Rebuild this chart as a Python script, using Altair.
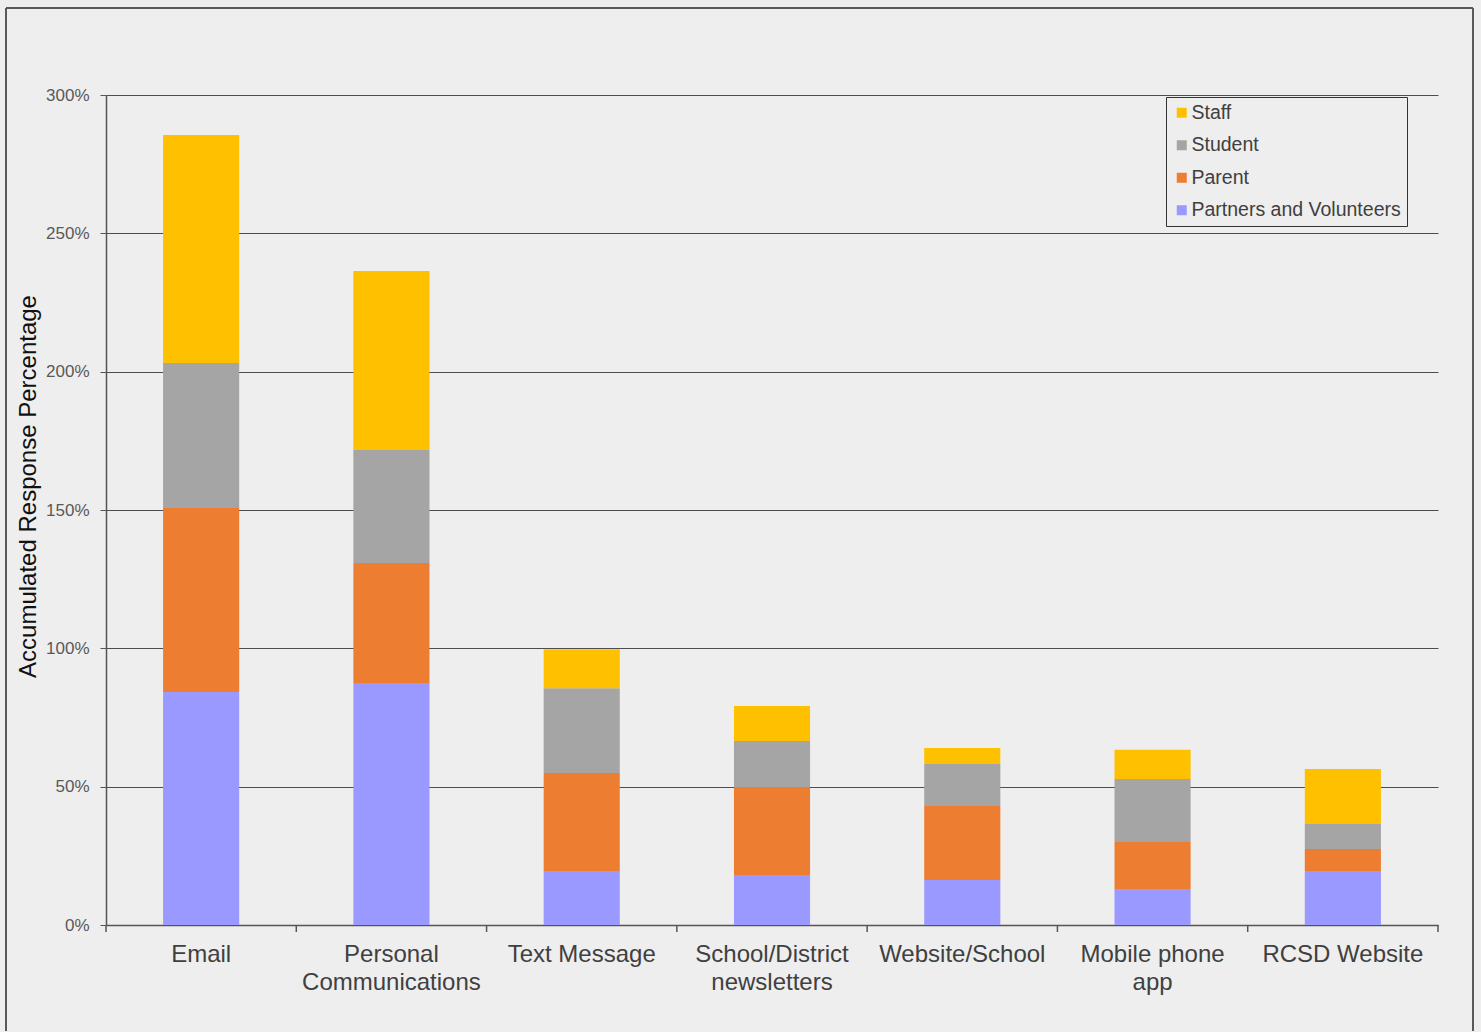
import json
import altair as alt
import pandas as pd

categories = ["Email", "Personal Communications", "Text Message",
              "School/District newsletters", "Website/School",
              "Mobile phone app", "RCSD Website"]
label_lines = [["Email"], ["Personal", "Communications"], ["Text Message"],
               ["School/District", "newsletters"], ["Website/School"],
               ["Mobile phone", "app"], ["RCSD Website"]]
groups = ["Staff", "Student", "Parent", "Partners and Volunteers"]
colors = ["#FFC000", "#A5A5A5", "#ED7D31", "#9999FF"]
partners = [84.2, 87.5, 19.5, 18.1, 16.3, 13.0, 19.5]
parent = [66.5, 43.3, 35.4, 31.8, 26.7, 17.0, 8.0]
student = [52.4, 40.9, 30.7, 16.6, 15.2, 22.8, 9.0]
staff = [82.4, 64.7, 14.1, 12.7, 5.8, 10.5, 19.9]
y_ticks = [0, 50, 100, 150, 200, 250, 300]

series = {"Partners and Volunteers": partners, "Parent": parent,
          "Student": student, "Staff": staff}
stack_rank = {"Partners and Volunteers": 0, "Parent": 1, "Student": 2, "Staff": 3}
rows = []
for g, vals in series.items():
    for c, v in zip(categories, vals):
        rows.append({"cat": c, "group": g, "value": v, "rank": stack_rank[g]})
df = pd.DataFrame(rows)
cat_df = pd.DataFrame({"cat": categories})
one = pd.DataFrame({"a": [0]})

expr = "datum.value"
for c, lines in reversed(list(zip(categories, label_lines))):
    expr = f"datum.value == {json.dumps(c)} ? {json.dumps(lines)} : ({expr})"

font = "Liberation Sans"
x_scale = alt.Scale(paddingInner=0, paddingOuter=0)
x_axis = alt.Axis(title=None, labelExpr=expr, labelFontSize=24, labelColor="#404040",
                  labelFont=font, labelPadding=17, labelLineHeight=28, labelAngle=0,
                  ticks=False, domainColor="#555555", domainWidth=1.5)

bars = alt.Chart(df).mark_bar(width=alt.RelativeBandSize(0.4)).encode(
    x=alt.X("cat:N", sort=categories, scale=x_scale, axis=x_axis),
    y=alt.Y("value:Q", stack="zero",
            scale=alt.Scale(domain=[0, 300], nice=False),
            axis=alt.Axis(values=y_ticks, labelExpr="datum.value + '%'",
                          title="Accumulated Response Percentage",
                          titleFontSize=24, titleFont=font, titleColor="#111111",
                          titleFontWeight="normal", titleAngle=270,
                          titleX=-78, titleY=391, titleBaseline="middle",
                          labelFontSize=17, labelFont=font, labelColor="#595959",
                          labelPadding=11, tickSize=6, tickColor="#555555",
                          domainColor="#555555", domainWidth=1.5,
                          grid=True, gridColor="#4d4d4d", gridWidth=1)),
    color=alt.Color("group:N", scale=alt.Scale(domain=groups, range=colors),
                    legend=alt.Legend(title=None, orient="none", legendX=1060, legendY=2,
                                      fillColor="#eeeeee", strokeColor="#333333",
                                      padding=6, labelFontSize=19.5, labelFont=font,
                                      labelColor="#404040", symbolType="square",
                                      symbolSize=100, symbolStrokeWidth=0,
                                      rowPadding=11.5, labelLimit=400, labelOffset=0)),
    order=alt.Order("rank:Q", sort="ascending"),
)

ticks = alt.Chart(cat_df).mark_rule(color="#555555", strokeWidth=1.5).encode(
    x=alt.X("cat:N", sort=categories, scale=x_scale, axis=x_axis, bandPosition=0),
    y=alt.value(830), y2=alt.value(837),
)
end_tick = alt.Chart(one).mark_rule(color="#555555", strokeWidth=1.5).encode(
    x=alt.value(1332), y=alt.value(830), y2=alt.value(837))

frame_kw = dict(color="#595959", strokeWidth=2)
frame_left = alt.Chart(one).mark_rule(**frame_kw).encode(
    x=alt.value(-100), y=alt.value(-87), y2=alt.value(936))
frame_right = alt.Chart(one).mark_rule(**frame_kw).encode(
    x=alt.value(1367), y=alt.value(-87), y2=alt.value(936))
frame_top = alt.Chart(one).mark_rule(**frame_kw).encode(
    x=alt.value(-100), x2=alt.value(1367), y=alt.value(-87))

chart = alt.layer(bars, ticks, end_tick, frame_left, frame_right, frame_top).properties(
    width=1332, height=830, background="#eeeeee",
    padding={"left": 5, "top": 7, "right": 7, "bottom": 0},
).configure_view(strokeWidth=0, fill="#eeeeee")

chart.save("out.html", embed_options={"renderer": "svg", "actions": False})
